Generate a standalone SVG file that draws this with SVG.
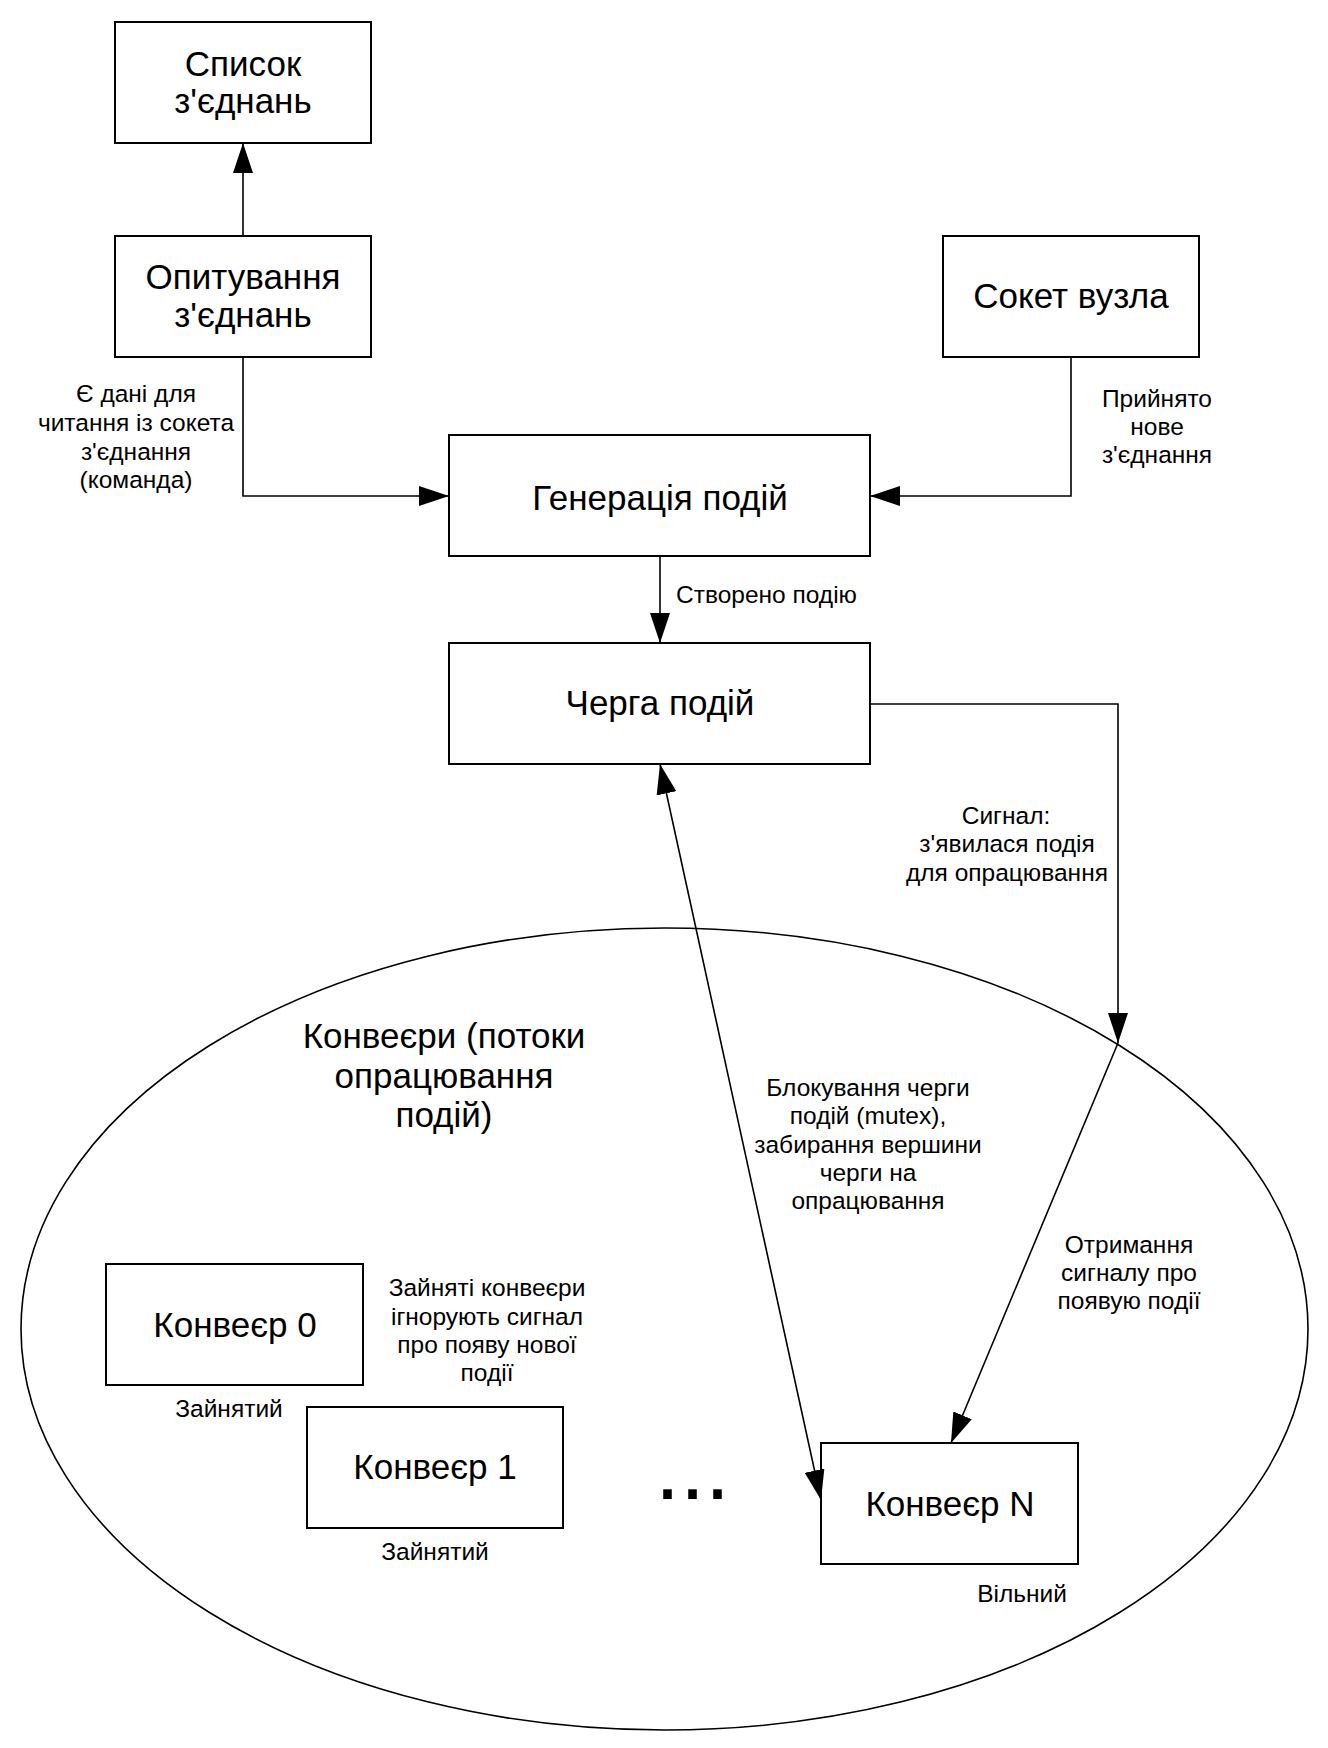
<svg xmlns="http://www.w3.org/2000/svg" width="1328" height="1748" viewBox="0 0 1328 1748">
  <style>
    .box { fill: #ffffff; stroke: #000000; stroke-width: 2; }
    .big { font-family: "Liberation Sans", Arial, sans-serif; font-size: 35px; fill: #000000; text-anchor: middle; }
    .small { font-family: "Liberation Sans", Arial, sans-serif; font-size: 24.5px; fill: #000000; text-anchor: middle; }
    .conn { fill: none; stroke: #000000; stroke-width: 1.6; }
  </style>
  <defs>
    <marker id="arrow" markerUnits="userSpaceOnUse" markerWidth="30" markerHeight="20" refX="30" refY="10" orient="auto-start-reverse" viewBox="0 0 30 20">
      <path d="M0,0 L30,10 L0,20 Z" fill="#000000"/>
    </marker>
  </defs>
  <rect width="1328" height="1748" fill="#ffffff"/>

  <!-- container: pipelines (processing threads) -->
  <g id="pipelines">
    <ellipse cx="664.5" cy="1329" rx="643.5" ry="401" fill="none" stroke="#000000" stroke-width="1.6"/>
    <text class="big" x="444" y="1048">Конвеєри (потоки</text>
    <text class="big" x="444" y="1088">опрацювання</text>
    <text class="big" x="444" y="1127">подій)</text>
  </g>

  <g id="connection-list">
    <rect class="box" x="115" y="22" width="256" height="121"/>
    <text class="big" x="243" y="76">Список</text>
    <text class="big" x="243" y="113">з'єднань</text>
  </g>

  <g id="connection-polling">
    <rect class="box" x="115" y="236" width="256" height="121"/>
    <text class="big" x="243" y="289">Опитування</text>
    <text class="big" x="243" y="327">з'єднань</text>
  </g>

  <g id="node-socket">
    <rect class="box" x="943" y="236" width="256" height="121"/>
    <text class="big" x="1071" y="308">Сокет вузла</text>
  </g>

  <g id="event-generation">
    <rect class="box" x="449" y="435" width="421" height="121"/>
    <text class="big" x="660" y="510">Генерація подій</text>
  </g>

  <g id="event-queue">
    <rect class="box" x="449" y="643" width="421" height="121"/>
    <text class="big" x="660" y="715">Черга подій</text>
  </g>

  <g id="pipeline-0">
    <rect class="box" x="106" y="1264" width="257" height="121"/>
    <text class="big" x="235" y="1337">Конвеєр 0</text>
    <text class="small" x="229" y="1417">Зайнятий</text>
  </g>

  <g id="pipeline-1">
    <rect class="box" x="307" y="1407" width="256" height="121"/>
    <text class="big" x="435" y="1479">Конвеєр 1</text>
    <text class="small" x="435" y="1560">Зайнятий</text>
  </g>

  <g id="pipeline-ellipsis">
    <text x="655" y="1499" font-family="Liberation Sans, Arial, sans-serif" font-size="90" fill="#000000">...</text>
  </g>

  <g id="pipeline-n">
    <rect class="box" x="821" y="1443" width="257" height="121"/>
    <text class="big" x="950" y="1516">Конвеєр N</text>
    <text class="small" x="1022" y="1602">Вільний</text>
  </g>

  <g id="busy-note">
    <text class="small" x="487" y="1296">Зайняті конвеєри</text>
    <text class="small" x="487" y="1325">ігнорують сигнал</text>
    <text class="small" x="487" y="1353">про появу нової</text>
    <text class="small" x="487" y="1381">події</text>
  </g>

  <!-- connectors -->
  <g id="connectors">
    <path class="conn" d="M243,236 L243,143" marker-end="url(#arrow)"/>
    <path class="conn" d="M243,357 L243,496 L449,496" marker-end="url(#arrow)"/>
    <path class="conn" d="M1071,357 L1071,496 L870,496" marker-end="url(#arrow)"/>
    <path class="conn" d="M660,556 L660,643" marker-end="url(#arrow)"/>
    <path class="conn" d="M870,704 L1118,704 L1118,1043" marker-end="url(#arrow)"/>
    <path class="conn" d="M1118,1043 L951,1443" marker-end="url(#arrow)"/>
    <path class="conn" d="M660,764 L821,1500" marker-start="url(#arrow)" marker-end="url(#arrow)"/>

    <g id="connector-labels">
      <text class="small" x="136" y="402">Є дані для</text>
      <text class="small" x="136" y="431">читання із сокета</text>
      <text class="small" x="136" y="460">з'єднання</text>
      <text class="small" x="136" y="488">(команда)</text>

      <text class="small" x="1157" y="407">Прийнято</text>
      <text class="small" x="1157" y="435">нове</text>
      <text class="small" x="1157" y="463">з'єднання</text>

      <text class="small" x="676" y="603" style="text-anchor:start">Створено подію</text>

      <text class="small" x="1006" y="824">Сигнал:</text>
      <text class="small" x="1007" y="852">з'явилася подія</text>
      <text class="small" x="1007" y="881">для опрацювання</text>

      <text class="small" x="868" y="1096">Блокування черги</text>
      <text class="small" x="868" y="1124">подій (mutex),</text>
      <text class="small" x="868" y="1153">забирання вершини</text>
      <text class="small" x="868" y="1181">черги на</text>
      <text class="small" x="868" y="1209">опрацювання</text>

      <text class="small" x="1129" y="1253">Отримання</text>
      <text class="small" x="1129" y="1281">сигналу про</text>
      <text class="small" x="1129" y="1309">появую події</text>
    </g>
  </g>
</svg>
